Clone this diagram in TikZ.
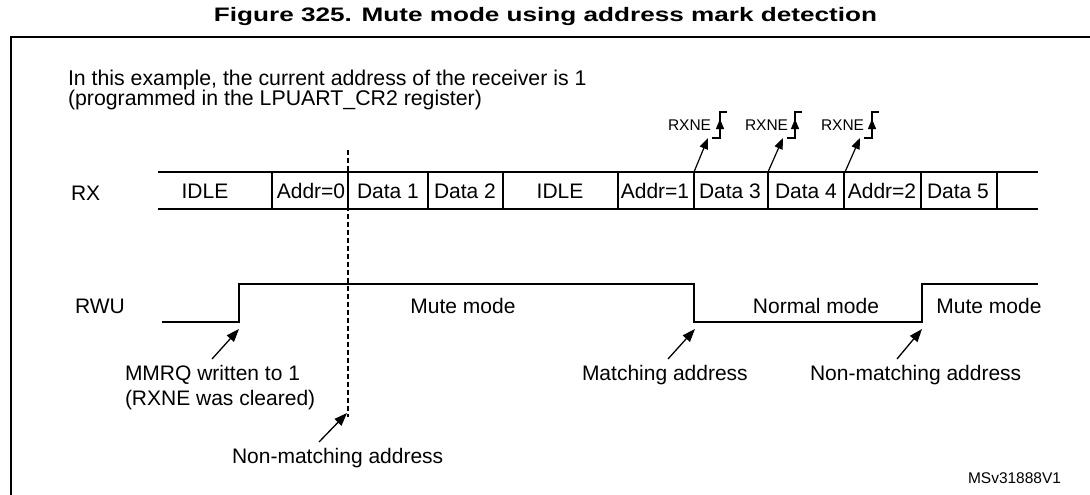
\documentclass[tikz,border=0pt]{standalone}
\usepackage{graphicx}
\usepackage{fontspec}
\setmainfont{Liberation Sans}
\usetikzlibrary{arrows.meta}
\begin{document}
\begin{tikzpicture}[x=1pt,y=-1pt,
  txt/.style={font=\fontsize{21pt}{23pt}\selectfont, inner sep=0pt, outer sep=0pt},
  introtxt/.style={font=\fontsize{21.3pt}{23pt}\selectfont, inner sep=0pt, outer sep=0pt},
  smalltxt/.style={font=\fontsize{15.5pt}{17pt}\selectfont, inner sep=0pt, outer sep=0pt},
  wave/.style={line width=1.5pt, line join=miter},
  ptr/.style={line width=1.3pt, -{Triangle[length=13pt,width=9.5pt]}},
  smallptr/.style={line width=1.2pt, -{Triangle[length=11pt,width=8.5pt]}},
  edgemark/.style={line width=1.2pt},
]
\useasboundingbox (0,0) rectangle (1090,495);
\fill[white] (0,0) rectangle (1090,495);

% title and frame
\node[font=\bfseries\fontsize{19.5pt}{21pt}\selectfont, anchor=base, inner sep=0pt] (title) at (545.5,21.5)
  {\scalebox{1.34}[1]{Figure 325. Mute mode using address mark detection}};
\coordinate (fbl) at (11,495);
\coordinate (ftl) at (11,37);
\coordinate (ftr) at (1090,37);
\draw[line width=2.6pt] (fbl) -- (ftl) -- (ftr);

% intro text
\node[introtxt, anchor=base west] (intro1) at (68,85) {In this example, the current address of the receiver is 1};
\node[introtxt, anchor=base west] (intro2) at (68,105) {(programmed in the LPUART\_CR2 register)};

% signal names
\node[txt, anchor=base west] (rxlbl) at (71,200) {RX};
\node[txt, anchor=base west] (rwulbl) at (75,313) {RWU};

% RX bus
\coordinate (bt0) at (158,172); \coordinate (bt1) at (1038,172);
\coordinate (bb0) at (158,209); \coordinate (bb1) at (1038,209);
\draw[wave] (bt0) -- (bt1);
\draw[wave] (bb0) -- (bb1);
\foreach \x in {272,348,428,503,618,694,768,844,921,997}
  \draw[wave] (\x,172) -- (\x,209);

\node[txt, anchor=base] (c1) at (205,198) {IDLE};
\node[txt, anchor=base] (c2) at (311,198) {Addr=0};
\node[txt, anchor=base] (c3) at (388,198) {Data 1};
\node[txt, anchor=base] (c4) at (465,198) {Data 2};
\node[txt, anchor=base] (c5) at (560,198) {IDLE};
\node[txt, anchor=base] (c6) at (655,198) {Addr=1};
\node[txt, anchor=base] (c7) at (730,198) {Data 3};
\node[txt, anchor=base] (c8) at (806,198) {Data 4};
\node[txt, anchor=base] (c9) at (882,198) {Addr=2};
\node[txt, anchor=base] (c10) at (958,198) {Data 5};

% dashed marker
\coordinate (dtop) at (348,150);
\coordinate (dbot) at (348,417);
\draw[line width=1.1pt, dash pattern=on 5pt off 3pt] (dtop) -- (dbot);

% RWU waveform
\coordinate (w0) at (162,322);
\coordinate (w1) at (239,322);
\coordinate (w2) at (239,284);
\coordinate (w3) at (694,284);
\coordinate (w4) at (694,322);
\coordinate (w5) at (922,322);
\coordinate (w6) at (922,284);
\coordinate (w7) at (1038,284);
\draw[wave] (w0) -- (w1) -- (w2) -- (w3) -- (w4) -- (w5) -- (w6) -- (w7);

\node[txt, anchor=base] (mute1) at (463,313) {Mute mode};
\node[txt, anchor=base] (normal) at (816,313) {Normal mode};
\node[txt, anchor=base] (mute2) at (989,313) {Mute mode};

% annotations
\node[txt, anchor=base west] (mmrq1) at (125,380) {MMRQ written to 1};
\node[txt, anchor=base west] (mmrq2) at (125,405) {(RXNE was cleared)};
\node[txt, anchor=base west] (nonm1) at (232,463) {Non-matching address};
\node[txt, anchor=base west] (match) at (582,380) {Matching address};
\node[txt, anchor=base west] (nonm2) at (810,380) {Non-matching address};

\coordinate (a1s) at (212,359); \coordinate (a1e) at (239,329);
\coordinate (a2s) at (319,442); \coordinate (a2e) at (347,413);
\coordinate (a3s) at (668,359); \coordinate (a3e) at (695,329);
\coordinate (a4s) at (897,359); \coordinate (a4e) at (922,329);
\draw[ptr] (a1s) -- (a1e);
\draw[ptr] (a2s) -- (a2e);
\draw[ptr] (a3s) -- (a3e);
\draw[ptr] (a4s) -- (a4e);

% RXNE marks
\foreach \tx/\vx/\bx/\n in {668/720/694/1, 745/795/768/2, 821/872/845/3}{
  \node[smalltxt, anchor=base west] (rxne\n) at (\tx,130) {RXNE};
  \coordinate (rs\n) at (\bx,172);
  \coordinate (re\n) at (\vx-12,138);
  \draw[smallptr] (rs\n) -- (re\n);
  \coordinate (eb\n) at (\vx-8,138);
  \coordinate (ev\n) at (\vx,138);
  \coordinate (em\n) at (\vx,119);
  \coordinate (et\n) at (\vx,112);
  \coordinate (er\n) at (\vx+7,112);
  \draw[edgemark] (eb\n) -- (ev\n) -- (et\n) -- (er\n);
  \draw[edgemark, -{Triangle[length=10pt,width=8pt]}] (ev\n) -- (em\n);
}

\node[smalltxt, anchor=base west] (ref) at (968,483) {MSv31888V1};
\end{tikzpicture}
\end{document}
